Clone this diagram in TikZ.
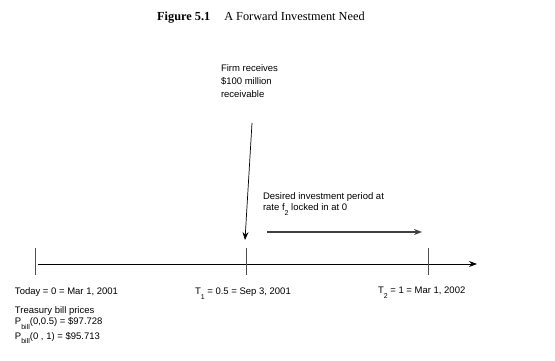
\documentclass[tikz,border=0pt]{standalone}
\usepackage{fontspec}
\setmainfont{Liberation Sans}
\newfontfamily\capfont{Liberation Serif}
\usetikzlibrary{arrows.meta, positioning, calc}
\newcommand{\lowsub}[1]{\raisebox{-4.5pt}{\fontsize{7}{7}\selectfont #1}}

\begin{document}
\begin{tikzpicture}[x=1pt, y=1pt]
	\tikzstyle{lbl} = [
	inner sep=0pt,
	outer sep=0pt,
	align=left,
	font=\fontsize{9.5}{11}\selectfont
	]
	\tikzstyle{tick} = [line width=.3mm, draw=black!70]
	
	\useasboundingbox (0,0) rectangle (555,361);
	
	\node[anchor=base west, inner sep=0pt, font=\capfont\fontsize{12.3}{14}\selectfont] (title) at (157,340) {\textbf{Figure 5.1}\hspace{14pt}A Forward Investment Need};
	
	% time axis
	\coordinate (start) at (38,97);
	\coordinate (end) at (477,97);
	\coordinate (t0) at (35,97);
	\coordinate (t1) at (246,97);
	\coordinate (t2) at (428,97);
	\draw[line width=.3mm, -{Stealth[length=8pt, width=6pt]}] (start) -- (end);
	\foreach \t in {t0, t1, t2}
		\draw[tick] ($(\t)+(0,16)$) -- ($(\t)+(0,-11)$);
	
	\node[lbl, anchor=base west] (today) at (15,66) {Today = 0 = Mar 1, 2001};
	\node[lbl, anchor=base west] (half) at (195,66) {T\lowsub{1} = 0.5 = Sep 3, 2001};
	\node[lbl, anchor=base west] (year) at (378,67) {T\lowsub{2} = 1 = Mar 1, 2002};
	\node[lbl, below=10pt of today.south west, anchor=north west] (tbill) {Treasury bill prices\\P\lowsub{bill}(0,0.5) = \$97.728\\[2pt]P\lowsub{bill}(0 , 1) = \$95.713};
	
	% receivable
	\node[lbl, anchor=north west, font=\fontsize{9.5}{12.7}\selectfont] (firm) at (221,296) {Firm receives\\\$100 million\\receivable};
	\coordinate (firmtail) at (252,238);
	\coordinate (firmtip) at (245,121);
	\draw[line width=.25mm, -{Stealth[length=8pt, width=6pt]}] (firmtail) -- (firmtip);
	
	% investment period
	\node[lbl, anchor=north west] (period) at (263,168) {Desired investment period at\\rate f\lowsub{2} locked in at 0};
	\coordinate (invstart) at (267,129);
	\coordinate (invend) at (422,129);
	\draw[line width=.45mm, draw=black!75, -{Stealth[length=8pt, width=6pt]}] (invstart) -- (invend);
\end{tikzpicture}
\end{document}
